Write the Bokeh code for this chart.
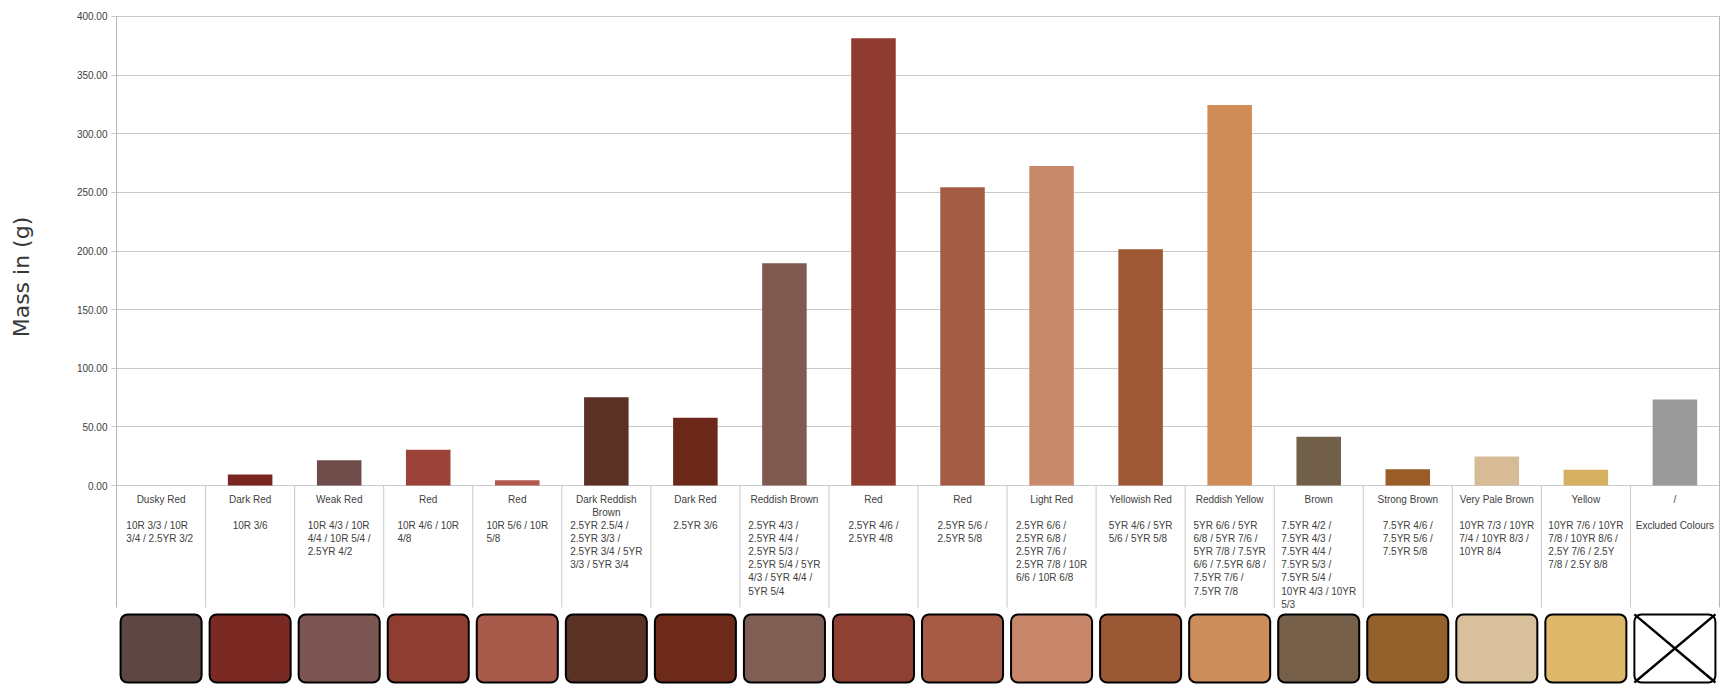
import math
from bokeh.plotting import figure
from bokeh.layouts import row
from bokeh.models import Range1d, FixedTicker, NumeralTickFormatter
from bokeh.core.properties import value
from bokeh.embed import file_html
from bokeh.resources import INLINE

# ---------------- data ----------------
name_lines = [
    ["Dusky Red"], ["Dark Red"], ["Weak Red"], ["Red"], ["Red"],
    ["Dark Reddish", "Brown"], ["Dark Red"], ["Reddish Brown"], ["Red"], ["Red"],
    ["Light Red"], ["Yellowish Red"], ["Reddish Yellow"], ["Brown"], ["Strong Brown"],
    ["Very Pale Brown"], ["Yellow"], ["/"],
]
code_lines = [
    ["10R 3/3 / 10R", "3/4  / 2.5YR 3/2"],
    ["10R 3/6"],
    ["10R 4/3 / 10R", "4/4 / 10R 5/4 /", "2.5YR 4/2"],
    ["10R 4/6 / 10R", "4/8"],
    ["10R 5/6 / 10R", "5/8"],
    ["2.5YR 2.5/4 /", "2.5YR 3/3 /", "2.5YR 3/4 / 5YR", "3/3 / 5YR 3/4"],
    ["2.5YR 3/6"],
    ["2.5YR 4/3 /", "2.5YR 4/4 /", "2.5YR 5/3 /", "2.5YR 5/4 / 5YR", "4/3 / 5YR 4/4 /", "5YR 5/4"],
    ["2.5YR 4/6 /", "2.5YR 4/8"],
    ["2.5YR 5/6 /", "2.5YR 5/8"],
    ["2.5YR 6/6 /", "2.5YR 6/8 /", "2.5YR 7/6 /", "2.5YR 7/8 / 10R", "6/6 / 10R 6/8"],
    ["5YR 4/6 / 5YR", "5/6 / 5YR 5/8"],
    ["5YR 6/6 / 5YR", "6/8 / 5YR 7/6 /", "5YR 7/8 / 7.5YR", "6/6 / 7.5YR 6/8 /", "7.5YR 7/6 /", "7.5YR 7/8"],
    ["7.5YR 4/2 /", "7.5YR 4/3 /", "7.5YR 4/4 /", "7.5YR 5/3 /", "7.5YR 5/4 /", "10YR 4/3 / 10YR", "5/3"],
    ["7.5YR 4/6 /", "7.5YR 5/6 /", "7.5YR 5/8"],
    ["10YR 7/3 / 10YR", "7/4 / 10YR 8/3 /", "10YR 8/4"],
    ["10YR 7/6 / 10YR", "7/8 / 10YR 8/6 /", "2.5Y 7/6 / 2.5Y", "7/8 / 2.5Y 8/8"],
    ["Excluded Colours"],
]
masses = [0, 9.4, 21.6, 30.4, 4.5, 75.3, 57.7, 189.5, 381.4, 254.4,
          272.6, 201.4, 324.5, 41.5, 13.9, 24.7, 13.4, 73.3]
bar_colors = ["#5e4642", "#7b2521", "#6f4c4a", "#9b4239", "#b3594b", "#5a3124",
              "#6b2819", "#7e5a50", "#8f3b30", "#a55c44", "#c98a6c", "#9d5934",
              "#cf8c56", "#725f4a", "#9a5d28", "#d6bb96", "#d6b061", "#9a9a9a"]
swatch_colors = ["#5e4642", "#7a2a22", "#7b5652", "#8f3d30", "#a85a4b", "#5a3326",
                 "#6d2a19", "#7f5f53", "#8e4132", "#a55b45", "#c8876a", "#9a5834",
                 "#cd8d5a", "#766049", "#94602c", "#d8c09c", "#dcb868", "#ffffff"]
excluded_index = 17
y_ticks = [0, 50, 100, 150, 200, 250, 300, 350, 400]
y_label = "Mass in (g)"

# ---------------- layout ----------------
H = 684
WL = 40                     # width of the strip holding the axis title
W = 1720 - WL
ML, MR, MT, MB = 115 - WL, 0, 15, 0
n = len(masses)
x0r, x1r = -0.012, n + 0.012
y1r = 400.85
y0r = -169.7
cell_px = (W - ML - MR) / (x1r - x0r)

name_y0 = -11.9
code_y0 = -33.7
line_step = 11.26
sep_bottom = -104.0
sw_top, sw_bottom = -109.9, -168.0
sw_width = 0.91
label_y = 177.8

ARIAL = {" ": .278, "/": .278, ".": .278, "R": .722, "Y": .667, "E": .667,
         "x": .5, "c": .5, "l": .222, "u": .556, "d": .556, "e": .556,
         "C": .722, "o": .556, "r": .333, "s": .5}


def text_w(s, size=10):
    return sum(ARIAL.get(ch, .556) for ch in s) * size


# ---- axis-title strip ----
pl = figure(width=WL, height=H, x_range=Range1d(0, WL), y_range=Range1d(y0r, y1r),
            output_backend="svg", toolbar_location=None, x_axis_type=None, y_axis_type=None,
            min_border_left=0, min_border_right=0, min_border_top=MT, min_border_bottom=MB)
pl.outline_line_color = None
pl.grid.visible = False
pl.text(x=[21], y=[label_y], text=[y_label], angle=math.pi / 2,
        text_font=value("DejaVu Sans"), text_font_size=value("22px"),
        text_color="#383838", text_align="center", text_baseline="middle")

# ---- main chart ----
p = figure(width=W, height=H, x_range=Range1d(x0r, x1r), y_range=Range1d(y0r, y1r),
           output_backend="svg", toolbar_location=None, x_axis_type=None,
           min_border_left=ML, min_border_right=MR, min_border_top=MT, min_border_bottom=MB)
p.outline_line_color = None
p.background_fill_color = "white"

ax = p.yaxis[0]
ax.ticker = FixedTicker(ticks=y_ticks, minor_ticks=[])
ax.formatter = NumeralTickFormatter(format="0.00")
ax.axis_line_color = None
ax.major_tick_line_color = "#c4c4c4"
ax.major_tick_out = 4
ax.major_tick_in = 0
ax.minor_tick_line_color = None
ax.major_label_text_font = "Liberation Sans"
ax.major_label_text_font_size = "10px"
ax.major_label_text_color = "#404040"
ax.major_label_standoff = 4
p.ygrid.grid_line_color = "#cacaca"
p.ygrid.grid_line_width = 1
p.xgrid.visible = False

# separators
sx, sy0, sy1, scol = [], [], [], []
for i in range(n + 1):
    sx.append(i)
    sy0.append(sep_bottom)
    edge = i == 0 or i == n
    sy1.append(y_ticks[-1] if edge else 0)
    scol.append("#b4b4b4" if edge else "#c8c8c8")
p.segment(x0=sx, y0=sy0, x1=sx, y1=sy1, line_color=scol, line_width=1)

# bars
centers = [i + 0.5 for i in range(n)]
p.vbar(x=centers, top=masses, bottom=0, width=0.5, fill_color=bar_colors, line_color=None)

# names
tx, ty, tt = [], [], []
for i, lines in enumerate(name_lines):
    for k, s in enumerate(lines):
        tx.append(centers[i]); ty.append(name_y0 - k * line_step); tt.append(s)
p.text(x=tx, y=ty, text=tt, text_font=value("Liberation Sans"), text_font_size=value("10px"),
       text_color="#404040", text_align="center", text_baseline="middle")

# codes (left-aligned block centred in its cell)
cx, cy, ct = [], [], []
for i, lines in enumerate(code_lines):
    bw = max(text_w(s) for s in lines) / cell_px
    for k, s in enumerate(lines):
        cx.append(centers[i] - bw / 2); cy.append(code_y0 - k * line_step); ct.append(s)
p.text(x=cx, y=cy, text=ct, text_font=value("Liberation Sans"), text_font_size=value("10px"),
       text_color="#404040", text_align="left", text_baseline="middle")

# swatches
lefts = [c - sw_width / 2 for c in centers]
rights = [c + sw_width / 2 for c in centers]
p.quad(left=lefts, right=rights, top=[sw_top] * n, bottom=[sw_bottom] * n,
       fill_color=swatch_colors, line_color="black", line_width=2, border_radius=7)
l, r = lefts[excluded_index], rights[excluded_index]
p.segment(x0=[l, l], y0=[sw_top, sw_bottom], x1=[r, r], y1=[sw_bottom, sw_top],
          line_color="black", line_width=2.5)

layout = row(pl, p)
open("out.html", "w").write(file_html(layout, INLINE))
